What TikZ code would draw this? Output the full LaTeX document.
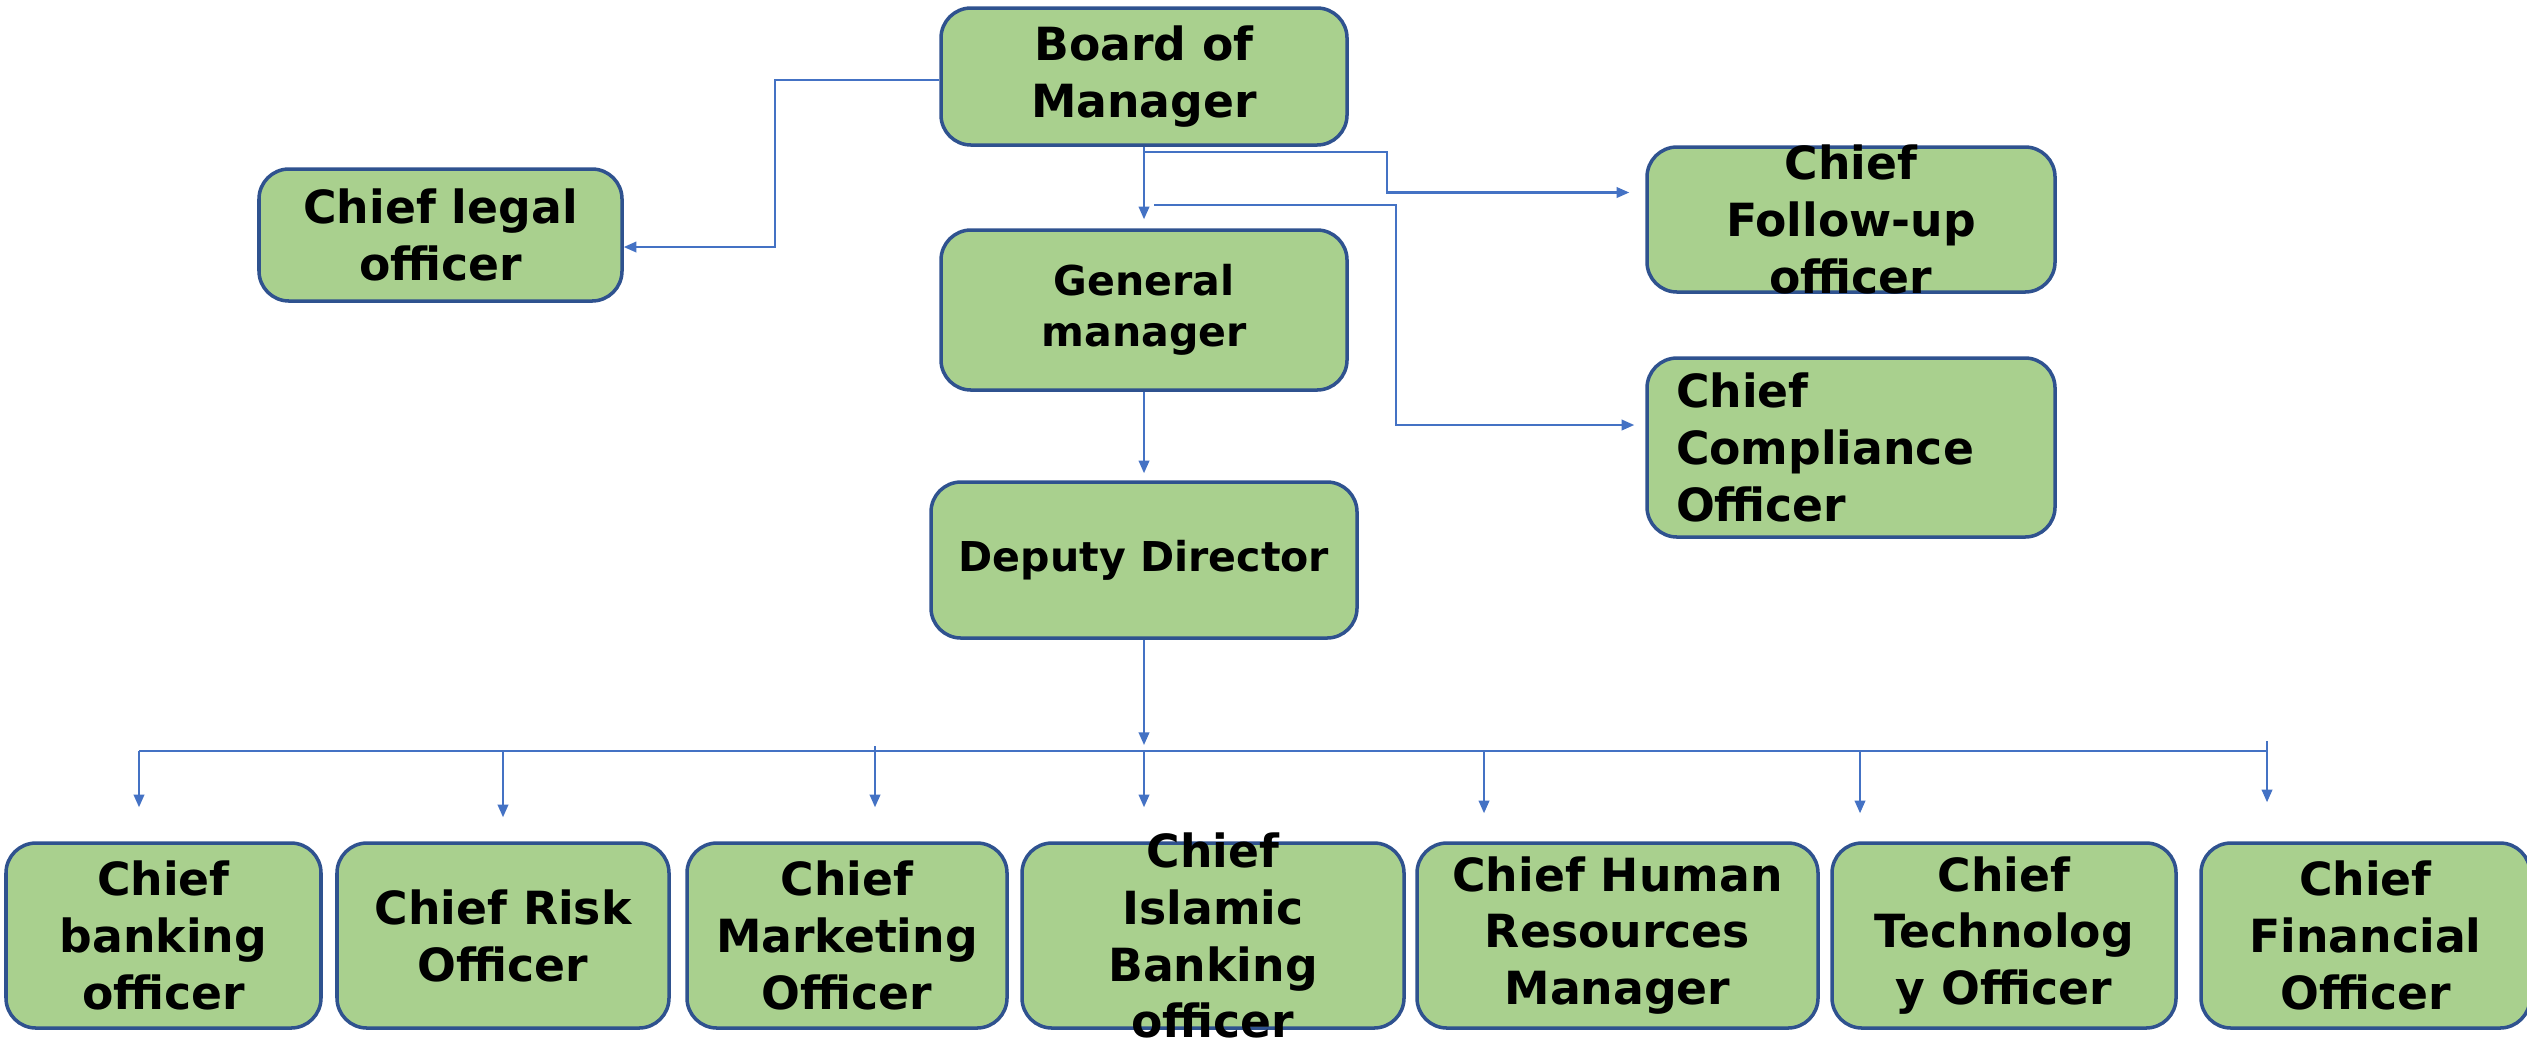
\documentclass[tikz,border=0pt]{standalone}
\usepackage{fontspec}
\setmainfont{DejaVu Sans}
\usetikzlibrary{arrows.meta}
\definecolor{boxfill}{HTML}{A9D08E}
\definecolor{boxline}{HTML}{2F528F}
\definecolor{linkblue}{HTML}{4472C4}

\begin{document}
\begin{tikzpicture}[
        unit/.style={draw=boxline, fill=boxfill, line width=1pt, rounded corners=0.3cm,
            inner xsep=2pt, inner ysep=0pt, align=center,
            font=\bfseries\fontsize{13}{16.2}\selectfont},
        midfont/.style={font=\bfseries\fontsize{11.7}{14.5}\selectfont},
        link/.style={draw=linkblue, line width=0.6pt, -{Triangle[length=3.6pt,width=3pt]}},
        bus/.style={draw=linkblue, line width=0.6pt}
    ]
        \useasboundingbox (0,0) rectangle (25.27,-10.41);

        % Pieces
        \node[unit, minimum width=4.06cm, minimum height=1.37cm] (board) at (11.44,-0.765) {Board of\\Manager};
        \node[unit, minimum width=3.63cm, minimum height=1.32cm] (legal) at (4.405,-2.35) {Chief legal\\officer};
        \node[unit, midfont, minimum width=4.06cm, minimum height=1.60cm] (gm) at (11.44,-3.10) {General\\manager};
        \node[unit, midfont, minimum width=4.26cm, minimum height=1.56cm] (deputy) at (11.44,-5.60) {Deputy Director};
        \node[unit, inner ysep=-0.03cm, minimum width=4.08cm, minimum height=1.45cm] (follow) at (18.51,-2.195) {Chief\\Follow-up\\officer};
        \node[unit, align=left, text width=3.5cm, inner xsep=0.29cm, minimum width=4.08cm, minimum height=1.79cm] (comply) at (18.51,-4.475) {Chief\\Compliance\\Officer};

        \node[unit, minimum width=3.15cm, minimum height=1.85cm] (banking) at (1.635,-9.355) {Chief\\banking\\officer};
        \node[unit, minimum width=3.32cm, minimum height=1.85cm] (risk) at (5.03,-9.355) {Chief Risk\\Officer};
        \node[unit, minimum width=3.20cm, minimum height=1.85cm] (market) at (8.47,-9.355) {Chief\\Marketing\\Officer};
        \node[unit, inner ysep=-0.11cm, minimum width=3.82cm, minimum height=1.85cm] (islamic) at (12.13,-9.355) {Chief\\Islamic\\Banking\\officer};
        \node[unit, minimum width=4.01cm, minimum height=1.85cm] (hr) at (16.175,-9.355) {Chief Human\\Resources\\Manager};
        \node[unit, minimum width=3.44cm, minimum height=1.85cm] (tech) at (20.04,-9.355) {Chief\\Technolog\\y Officer};
        \node[unit, minimum width=3.29cm, minimum height=1.85cm] (fin) at (23.655,-9.355) {Chief\\Financial\\Officer};

        % Joints
        \coordinate (split) at (11.54,-2.05);
        \coordinate (hub) at (11.44,-7.51);
        \coordinate (b1) at (1.39,-7.51);
        \coordinate (b2) at (5.03,-7.51);
        \coordinate (b3) at (8.75,-7.51);
        \coordinate (b4) at (11.44,-7.51);
        \coordinate (b5) at (14.84,-7.51);
        \coordinate (b6) at (18.60,-7.51);
        \coordinate (b7) at (22.67,-7.51);

        % Arrows
        \draw[link] ([yshift=-0.035cm]board.west) -- ++(-1.64,0) |- ([yshift=-0.12cm]legal.east);
        \draw[link, shorten >=0.09cm] (board.south) -- (gm.north);
        \draw[link, shorten >=0.16cm] ([yshift=-0.05cm]board.south) -- ++(2.43,0) |- ([yshift=0.27cm]follow.west);
        \draw[link, shorten >=0.11cm] (split) -- ++(2.42,0) |- ([yshift=0.225cm]comply.west);
        \draw[link, shorten >=0.07cm] (gm.south) -- (deputy.north);
        \draw[link, shorten >=0.06cm] (deputy.south) -- (hub);
        \draw[bus] (b1) -- (b7);
        \draw[link, shorten >=0.34cm] (b1) -- (b1 |- banking.north);
        \draw[link, shorten >=0.24cm] (b2) -- (b2 |- risk.north);
        \draw[link, shorten >=0.34cm] ([yshift=0.05cm]b3) -- (b3 |- market.north);
        \draw[link, shorten >=0.34cm] (b4) -- (b4 |- islamic.north);
        \draw[link, shorten >=0.28cm] (b5) -- (b5 |- hr.north);
        \draw[link, shorten >=0.28cm] (b6) -- (b6 |- tech.north);
        \draw[link, shorten >=0.39cm] ([yshift=0.1cm]b7) -- (b7 |- fin.north);
    \end{tikzpicture}
\end{document}
